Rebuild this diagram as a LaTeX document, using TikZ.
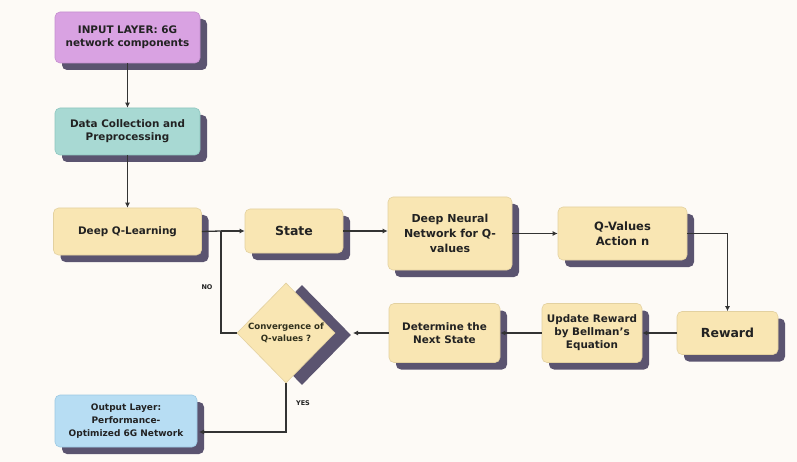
\documentclass[tikz,border=0pt]{standalone}
\usepackage{fontspec}
\setmainfont{DejaVu Sans}
\usetikzlibrary{shapes.geometric,shadows,arrows.meta,calc}
\definecolor{bgc}{HTML}{FDFAF6}
\definecolor{cream}{HTML}{F9E6B3}
\definecolor{creamline}{HTML}{E3D1A0}
\definecolor{purp}{HTML}{D9A2E2}
\definecolor{purpline}{HTML}{C58FCF}
\definecolor{teal}{HTML}{A8D9D3}
\definecolor{tealline}{HTML}{8EC6BF}
\definecolor{skyb}{HTML}{B7DDF3}
\definecolor{skyline}{HTML}{9CC8E2}
\definecolor{shad}{HTML}{5B5470}
\definecolor{txt}{HTML}{222222}
\definecolor{linec}{HTML}{333333}
\tikzset{
  x=1pt, y=-1pt,
  box/.style={rectangle, rounded corners=5pt, draw=creamline, line width=0.6pt, fill=cream,
    text=txt, font=\bfseries\fontsize{10.4}{13}\selectfont, align=center, inner sep=2pt,
    drop shadow={shadow xshift=7pt, shadow yshift=-7pt, fill=shad, opacity=1}},
  dia/.style={diamond, draw=creamline, line width=0.6pt, fill=cream, text=txt!85!olive,
    font=\bfseries\fontsize{8.6}{12}\selectfont, align=center, inner sep=0pt,
    minimum width=98pt, minimum height=100pt,
    drop shadow={shadow xshift=16pt, shadow yshift=-2pt, fill=shad, opacity=1}},
  conn/.style={draw=linec, line width=1.3pt, -{Latex[length=5pt,width=5pt]}},
  lbl/.style={text=txt, font=\bfseries\fontsize{6.5}{8}\selectfont, inner sep=0pt},
}
\begin{document}
\begin{tikzpicture}
\fill[bgc] (0,0) rectangle (797,462);
\useasboundingbox (0,0) rectangle (797,462);

\node[box, fill=purp, draw=purpline, minimum width=145pt, minimum height=51pt] (inp) at (127.5,37.5) {INPUT LAYER: 6G\\network components};
\node[box, fill=teal, draw=tealline, minimum width=145pt, minimum height=47pt] (data) at (127.5,131.5) {Data Collection and\\Preprocessing};
\node[box, minimum width=148pt, minimum height=47pt] (dql) at (127.5,231.5) {Deep Q-Learning};
\node[box, minimum width=98pt, minimum height=44pt, font=\bfseries\fontsize{12.5}{15}\selectfont] (state) at (294,231) {State};
\node[box, minimum width=124pt, minimum height=73pt, font=\bfseries\fontsize{11}{15}\selectfont] (dnn) at (450,233.5) {Deep Neural\\Network for Q-\\values};
\node[box, minimum width=129pt, minimum height=53pt, font=\bfseries\fontsize{11.5}{15}\selectfont] (qv) at (622.5,233.5) {Q-Values\\Action n};
\node[box, minimum width=101pt, minimum height=43pt, font=\bfseries\fontsize{12.5}{15}\selectfont] (rew) at (727.5,333) {Reward};
\node[box, minimum width=100pt, minimum height=59pt] (upd) at (592,333) {Update Reward\\by Bellman's\\Equation};
\node[box, minimum width=111pt, minimum height=59pt] (det) at (444.5,333) {Determine the\\Next State};
\node[dia] (conv) at (286,333) {Convergence of\\Q-values ?};
\node[box, fill=skyb, draw=skyline, minimum width=142pt, minimum height=52pt, font=\bfseries\fontsize{9}{13}\selectfont] (out) at (126,421) {Output Layer:\\Performance-\\Optimized 6G Network};

\coordinate (jn) at (221,231);
\coordinate (nocorner) at (221,333);
\coordinate (convtip) at (353,333);
\coordinate (yescorner) at (286,432);
\coordinate (outin) at (199,432);

\draw[conn] (inp) -- (data);
\draw[conn] (data) -- (dql);
\draw[draw=linec, line width=1.3pt] (dql.east) -- (jn);
\draw[conn] (jn) -- (state.west);
\draw[conn] (state.east) -- (state.east -| dnn.west);
\draw[conn] (dnn.east) -- (qv.west);
\draw[conn] (qv.east) -| (rew.north);
\draw[conn] (rew.west) -- (upd.east);
\draw[conn] (upd.west) -- (det.east);
\draw[conn] (det.west) -- (convtip);
\draw[draw=linec, line width=1.3pt] (conv.west) -- (nocorner) -- (jn);
\draw[conn] (conv.south) -- (yescorner) -- (outin);

\node[lbl] (nol) at (207,287) {NO};
\node[lbl] (yesl) at (303,403) {YES};
\end{tikzpicture}
\end{document}
